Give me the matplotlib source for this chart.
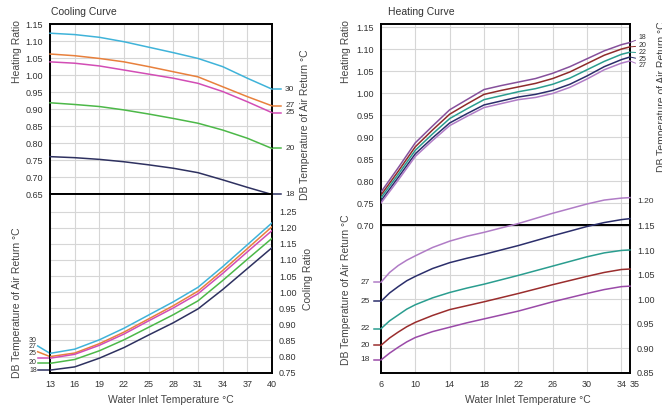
import matplotlib.pyplot as plt
import numpy as np

plt.rcParams['font.family'] = ['Liberation Sans', 'DejaVu Sans']

# ---- cooling curve data ----
cool_x = [13, 16, 19, 22, 25, 28, 31, 34, 37, 40]
cool_names = ['30', '27', '25', '20', '18']
cool_colors = ['#3fb3d9', '#e8803c', '#d24db5', '#4cb848', '#2e3160']

# upper half: heating ratio
hr_30 = [1.123, 1.119, 1.111, 1.098, 1.082, 1.066, 1.049, 1.025, 0.991, 0.959]
hr_27 = [1.062, 1.057, 1.049, 1.039, 1.025, 1.010, 0.995, 0.966, 0.937, 0.910]
hr_25 = [1.039, 1.035, 1.027, 1.015, 1.003, 0.991, 0.976, 0.952, 0.922, 0.890]
hr_20 = [0.919, 0.914, 0.908, 0.898, 0.886, 0.873, 0.859, 0.839, 0.815, 0.785]
hr_18 = [0.761, 0.758, 0.753, 0.746, 0.737, 0.727, 0.714, 0.693, 0.671, 0.650]

# lower half: cooling ratio
cr_30 = [0.810, 0.823, 0.852, 0.888, 0.929, 0.970, 1.015, 1.079, 1.147, 1.215]
cr_27 = [0.800, 0.811, 0.840, 0.876, 0.917, 0.958, 1.003, 1.067, 1.135, 1.203]
cr_25 = [0.795, 0.807, 0.835, 0.870, 0.911, 0.951, 0.995, 1.058, 1.125, 1.191]
cr_20 = [0.779, 0.791, 0.818, 0.852, 0.891, 0.930, 0.973, 1.036, 1.102, 1.167]
cr_18 = [0.758, 0.768, 0.795, 0.828, 0.867, 0.905, 0.948, 1.008, 1.073, 1.138]
cr_tag = [0.833, 0.815, 0.795, 0.779, 0.758]    # where the left-hand stubs start
cr_label = [0.851, 0.830, 0.809, 0.781, 0.758]  # where the left-hand numbers sit

# ---- heating curve data ----
heat_x = [6, 8, 10, 12, 14, 16, 18, 20, 22, 24, 26, 28, 30, 32, 34, 35]
heat_names = ['18', '20', '22', '25', '27']
heat_colors = ['#86509c', '#8e2b2b', '#2a9d8f', '#2b2e6b', '#b07cc6']
h_18 = [0.775, 0.830, 0.887, 0.925, 0.962, 0.985, 1.008, 1.017, 1.025, 1.033, 1.045, 1.060, 1.078, 1.096, 1.110, 1.115]
h_20 = [0.768, 0.822, 0.878, 0.916, 0.952, 0.975, 0.997, 1.006, 1.014, 1.022, 1.033, 1.048, 1.067, 1.086, 1.100, 1.105]
h_22 = [0.762, 0.815, 0.870, 0.907, 0.942, 0.964, 0.985, 0.994, 1.003, 1.010, 1.020, 1.034, 1.053, 1.072, 1.088, 1.093]
h_25 = [0.755, 0.808, 0.862, 0.898, 0.932, 0.953, 0.973, 0.982, 0.991, 0.997, 1.006, 1.020, 1.039, 1.060, 1.076, 1.082]
h_27 = [0.750, 0.802, 0.856, 0.892, 0.926, 0.947, 0.967, 0.976, 0.985, 0.990, 0.999, 1.013, 1.032, 1.053, 1.068, 1.073]

heat_x2 = [6, 7, 8, 9, 10, 12, 14, 16, 18, 22, 26, 30, 32, 34, 35]
hb_names = ['27', '25', '22', '20', '18']
hb_colors = ['#b07cc6', '#2b2e6b', '#2a9d8f', '#9a2d2d', '#9a4aa8']
hb_27 = [1.035, 1.055, 1.069, 1.080, 1.089, 1.106, 1.119, 1.129, 1.137, 1.155, 1.176, 1.195, 1.203, 1.207, 1.208]
hb_25 = [0.996, 1.013, 1.026, 1.038, 1.047, 1.063, 1.075, 1.084, 1.092, 1.110, 1.130, 1.149, 1.157, 1.163, 1.165]
hb_22 = [0.940, 0.956, 0.968, 0.980, 0.989, 1.003, 1.014, 1.023, 1.031, 1.049, 1.068, 1.087, 1.095, 1.100, 1.101]
hb_20 = [0.906, 0.921, 0.933, 0.944, 0.953, 0.967, 0.979, 0.987, 0.995, 1.012, 1.030, 1.047, 1.055, 1.061, 1.062]
hb_18 = [0.876, 0.890, 0.902, 0.913, 0.922, 0.934, 0.943, 0.952, 0.960, 0.976, 0.995, 1.012, 1.020, 1.026, 1.027]

heat_ticks = [6, 10, 14, 18, 22, 26, 30, 34, 35]

W, H = 662, 411
fig = plt.figure(figsize=(W / 100, H / 100), dpi=100)
TXT = '#333333'
FS = 6.5


def box(x0, y0, x1, y1):
    return fig.add_axes([x0 / W, 1 - y1 / H, (x1 - x0) / W, (y1 - y0) / H])


def style(ax):
    ax.grid(True, color='#d6d6d6', lw=0.8)
    ax.set_axisbelow(True)
    for s in ax.spines.values():
        s.set_linewidth(1.4)
        s.set_color('black')
    ax.tick_params(length=0, labelsize=FS, labelcolor=TXT, pad=5)


ax_ct = box(50, 24, 272, 194.5)
ax_cb = box(50, 194.5, 272, 372.7)
ax_ht = box(381, 24, 630, 225)
ax_hb = box(381, 225, 630, 372.7)
for a in (ax_ct, ax_cb, ax_ht, ax_hb):
    style(a)

# ---- cooling, upper ----
for ys, c, n in zip([hr_30, hr_27, hr_25, hr_20, hr_18], cool_colors, cool_names):
    ax_ct.plot(cool_x, ys, color=c, lw=1.1, clip_on=False, zorder=3)
    ax_ct.plot([cool_x[-1], cool_x[-1] + 1.1], [ys[-1], ys[-1]], color=c, lw=1.1, clip_on=False)
    ax_ct.text(cool_x[-1] + 1.6, ys[-1], n, fontsize=6, color=TXT, va='center', ha='left')
ax_ct.set_xlim(13, 40)
ax_ct.set_ylim(0.65, 1.15)
ax_ct.set_xticks(cool_x)
ax_ct.set_xticklabels([])
ax_ct.set_yticks(np.arange(0.65, 1.151, 0.05))
ax_ct.set_yticklabels(['%.2f' % v for v in np.arange(0.65, 1.151, 0.05)])

# ---- cooling, lower ----
series = [cr_30, cr_27, cr_25, cr_20, cr_18]
for ys, c, n, tag, lab in zip(series, cool_colors, cool_names, cr_tag, cr_label):
    ax_cb.plot(cool_x, ys, color=c, lw=1.1, zorder=3)
    ax_cb.plot([cool_x[0] - 1.5, cool_x[0]], [tag, ys[0]], color=c, lw=1.1, clip_on=False)
    ax_cb.text(cool_x[0] - 1.6, lab, n, fontsize=5, color=TXT, va='center', ha='right')
ax_cb.set_xlim(13, 40)
ax_cb.set_ylim(0.75, 1.303)
ax_cb.set_xticks(cool_x)
ax_cb.set_xticklabels([str(v) for v in cool_x])
ax_cb.yaxis.tick_right()
ax_cb.set_yticks(np.arange(0.75, 1.251, 0.05))
ax_cb.set_yticklabels(['%.2f' % v for v in np.arange(0.75, 1.251, 0.05)])

# ---- heating, upper ----
tag_dy = [3.4, 0.7, -0.5, -1.9, -3.6]
for ys, c, n, dy in zip([h_18, h_20, h_22, h_25, h_27], heat_colors, heat_names, tag_dy):
    ax_ht.plot(heat_x, ys, color=c, lw=1.1, zorder=3)
    ax_ht.annotate(n, xy=(heat_x[-1], ys[-1]), xytext=(6, dy), textcoords='offset points',
                   fontsize=5, color=TXT, va='center', ha='left', annotation_clip=False,
                   arrowprops=dict(arrowstyle='-', color=c, lw=0.7, shrinkA=0, shrinkB=0))
ax_ht.set_xlim(6, 35)
ax_ht.set_ylim(0.70, 1.157)
ax_ht.set_xticks(heat_ticks[:-1])
ax_ht.set_xticklabels([])
ax_ht.set_yticks(np.arange(0.70, 1.151, 0.05))
ax_ht.set_yticklabels(['%.2f' % v for v in np.arange(0.70, 1.151, 0.05)])

# ---- heating, lower ----
for ys, c, n in zip([hb_27, hb_25, hb_22, hb_20, hb_18], hb_colors, hb_names):
    ax_hb.plot(heat_x2, ys, color=c, lw=1.1, clip_on=False, zorder=3)
    ax_hb.plot([heat_x2[0] - 0.8, heat_x2[0]], [ys[0], ys[0]], color=c, lw=1.1, clip_on=False)
    ax_hb.text(heat_x2[0] - 1.3, ys[0], n, fontsize=6, color=TXT, va='center', ha='right')
ax_hb.set_xlim(6, 35)
ax_hb.set_ylim(0.85, 1.152)
ax_hb.set_xticks(heat_ticks)
ax_hb.set_xticklabels([str(v) for v in heat_ticks])
for lbl in ax_hb.get_xticklabels():
    if lbl.get_text() == '35':
        lbl.set_horizontalalignment('left')
ax_hb.yaxis.tick_right()
ax_hb.set_yticks(np.arange(0.85, 1.151, 0.05))
ax_hb.set_yticklabels(['%.2f' % v for v in np.arange(0.85, 1.151, 0.05)])
ax_hb.annotate('1.20', xy=(1, 1.20), xycoords=('axes fraction', 'data'), xytext=(5, 0),
               textcoords='offset points', fontsize=FS - 0.5, color=TXT, va='center', ha='left',
               annotation_clip=False)

# ---- titles and axis captions ----
LBL = dict(fontsize=7.5, color='#444444', va='center', ha='center')
fig.text(51 / W, 1 - 12 / H, 'Cooling Curve', fontsize=7.5, color='#333333', ha='left', va='center')
fig.text(388 / W, 1 - 12 / H, 'Heating Curve', fontsize=7.5, color='#333333', ha='left', va='center')
fig.text(17 / W, 1 - 52 / H, 'Heating Ratio', rotation=90, **LBL)
fig.text(305 / W, 1 - 125 / H, 'DB Temperature of Air Return °C', rotation=90, **LBL)
fig.text(17 / W, 1 - 303 / H, 'DB Temperature of Air Return °C', rotation=90, **LBL)
fig.text(308 / W, 1 - 279 / H, 'Cooling Ratio', rotation=90, **LBL)
fig.text(171 / W, 1 - 400 / H, 'Water Inlet Temperature °C', **LBL)
fig.text(346 / W, 1 - 52 / H, 'Heating Ratio', rotation=90, **LBL)
fig.text(346 / W, 1 - 290 / H, 'DB Temperature of Air Return °C', rotation=90, **LBL)
fig.text(528 / W, 1 - 400 / H, 'Water Inlet Temperature °C', **LBL)
# this caption runs off the right edge in the original as well
fig.text(662 / W, 1 - 97 / H, 'DB Temperature of Air Return °C', rotation=90, **LBL)

fig.savefig('out.png', dpi=100)
